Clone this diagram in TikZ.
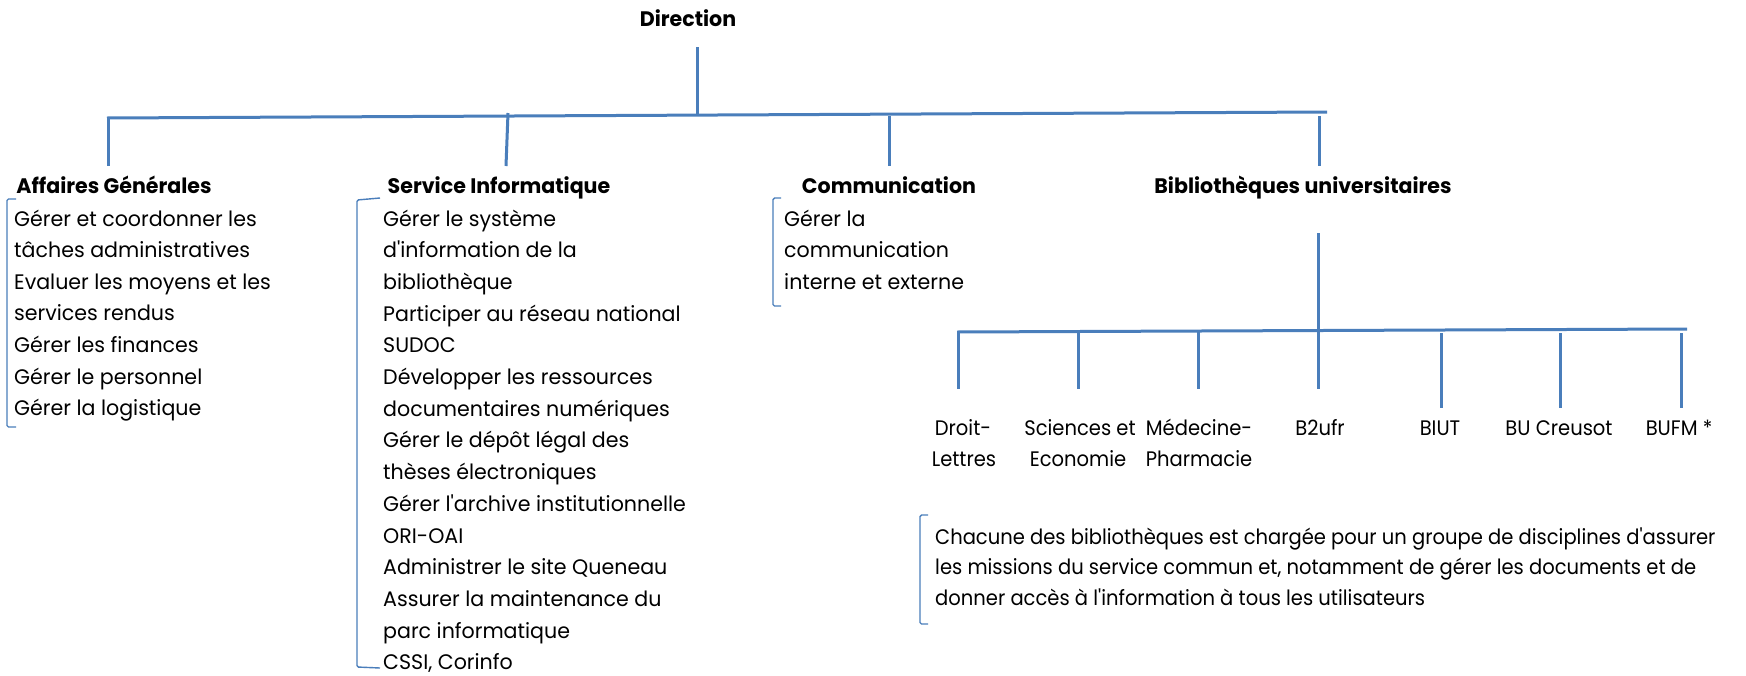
\documentclass[tikz,border=0pt]{standalone}
\usepackage{fontspec}
\setmainfont{Poppins}
\newfontfamily\bodyf[FakeStretch=0.98]{Poppins}
\newfontfamily\condf[FakeStretch=0.93]{Poppins}
\definecolor{lnblue}{HTML}{4A7EBB}
\begin{document}
\begin{tikzpicture}[x=1pt,y=-1pt,
  conn/.style={draw=lnblue, line width=3pt},
  brk/.style={draw=lnblue, line width=1.4pt, rounded corners=1.5pt},
  body/.style={font=\bodyf\fontsize{21}{25}\selectfont, inner sep=0pt, anchor=base west, text=black},
  head/.style={font=\bodyf\bfseries\fontsize{21}{25}\selectfont, inner sep=0pt, anchor=base, text=black},
  cond/.style={font=\condf\fontsize{21}{25}\selectfont, inner sep=0pt, anchor=base, text=black},
  condl/.style={cond, anchor=base west}]
\useasboundingbox (0,0) rectangle (1746,675);
\fill[white] (0,0) rectangle (1746,675);

% headers
\node[head] (dir) at (688,26) {Direction};
\node[head] (ag) at (114,193) {Affaires Générales};
\node[head] (si) at (499,193) {Service Informatique};
\node[head] (com) at (889,193) {Communication};
\node[head] (bib) at (1303,193) {Bibliothèques universitaires};

% connector coordinates
\coordinate (dT) at (697,47);
\coordinate (dB) at (697,115);
\coordinate (busL) at (107,118);
\coordinate (busR) at (1327,112);
\coordinate (agT) at (108.5,117);
\coordinate (agB) at (108.5,166);
\coordinate (siT) at (508,113);
\coordinate (siB) at (506,166);
\coordinate (comT) at (889,116);
\coordinate (comB) at (889,166);
\coordinate (bibT) at (1319,116);
\coordinate (bibB) at (1319,166);
\coordinate (bvT) at (1318,233);
\coordinate (bvB) at (1318,389);
\coordinate (bus2L) at (957,332);
\coordinate (bus2R) at (1687,329);

\draw[conn] (dT) -- (dB);
\draw[conn] (busL) -- (busR);
\draw[conn] (agT) -- (agB);
\draw[conn] (siT) -- (siB);
\draw[conn] (comT) -- (comB);
\draw[conn] (bibT) -- (bibB);
\draw[conn] (bvT) -- (bvB);
\draw[conn] (bus2L) -- (bus2R);
\foreach \x/\n in {958/1,1078/2,1198/3}{
  \coordinate (ltT\n) at (\x,331);
  \coordinate (ltB\n) at (\x,389);
  \draw[conn] (ltT\n) -- (ltB\n);
}
\foreach \x/\n in {1441/5,1560/6,1681/7}{
  \coordinate (ltT\n) at (\x,333);
  \coordinate (ltB\n) at (\x,408);
  \draw[conn] (ltT\n) -- (ltB\n);
}

% Affaires Generales list
\foreach \t [count=\i] in {Gérer et coordonner les, tâches administratives, Evaluer les moyens et les, services rendus, Gérer les finances, Gérer le personnel, Gérer la logistique}
  \node[body] (agl\i) at (14,{226+31.6*(\i-1)}) {\t};
\coordinate (agb1) at (16,199);
\coordinate (agb2) at (7,199);
\coordinate (agb3) at (7,427);
\coordinate (agb4) at (16,427);
\draw[brk] (agb1) -- (agb2) -- (agb3) -- (agb4);

% Service Informatique list
\foreach \t [count=\i] in {Gérer le système, d'information de la, bibliothèque, Participer au réseau national, SUDOC, Développer les ressources, documentaires numériques, Gérer le dépôt légal des, thèses électroniques, Gérer l'archive institutionnelle, ORI-OAI, Administrer le site Queneau, Assurer la maintenance du, parc informatique, {CSSI, Corinfo}}
  \node[body] (sil\i) at (383,{226+31.7*(\i-1)}) {\t};
\coordinate (sib1) at (380,198);
\coordinate (sib2) at (357,200);
\coordinate (sib3) at (357,667);
\coordinate (sib4) at (380,668);
\draw[brk] (sib1) -- (sib2) -- (sib3) -- (sib4);

% Communication list
\foreach \t [count=\i] in {Gérer la, communication, interne et externe}
  \node[body] (coml\i) at (784,{226+31.6*(\i-1)}) {\t};
\coordinate (cob1) at (781,198);
\coordinate (cob2) at (773,198);
\coordinate (cob3) at (773,306);
\coordinate (cob4) at (781,306);
\draw[brk] (cob1) -- (cob2) -- (cob3) -- (cob4);

% library labels
\node[cond] (lb1a) at (963,435) {Droit-};
\node[cond] (lb1b) at (964,466) {Lettres};
\node[cond] (lb2a) at (1080,435) {Sciences et};
\node[cond] (lb2b) at (1078,466) {Economie};
\node[cond] (lb3a) at (1199,435) {Médecine-};
\node[cond] (lb3b) at (1199,466) {Pharmacie};
\node[cond] (lb4) at (1320,435) {B2ufr};
\node[cond] (lb5) at (1440,435) {BIUT};
\node[cond] (lb6) at (1559,435) {BU Creusot};
\node[cond] (lb7) at (1679,435) {BUFM *};

% bottom note
\node[condl] (n1) at (935,544) {Chacune des bibliothèques est chargée pour un groupe de disciplines d'assurer};
\node[condl] (n2) at (935,574) {les missions du service commun et, notamment de gérer les documents et de};
\node[condl] (n3) at (935,605) {donner accès à l'information à tous les utilisateurs};
\coordinate (nb1) at (928,515);
\coordinate (nb2) at (920,515);
\coordinate (nb3) at (920,624);
\coordinate (nb4) at (928,624);
\draw[brk] (nb1) -- (nb2) -- (nb3) -- (nb4);
\end{tikzpicture}
\end{document}
